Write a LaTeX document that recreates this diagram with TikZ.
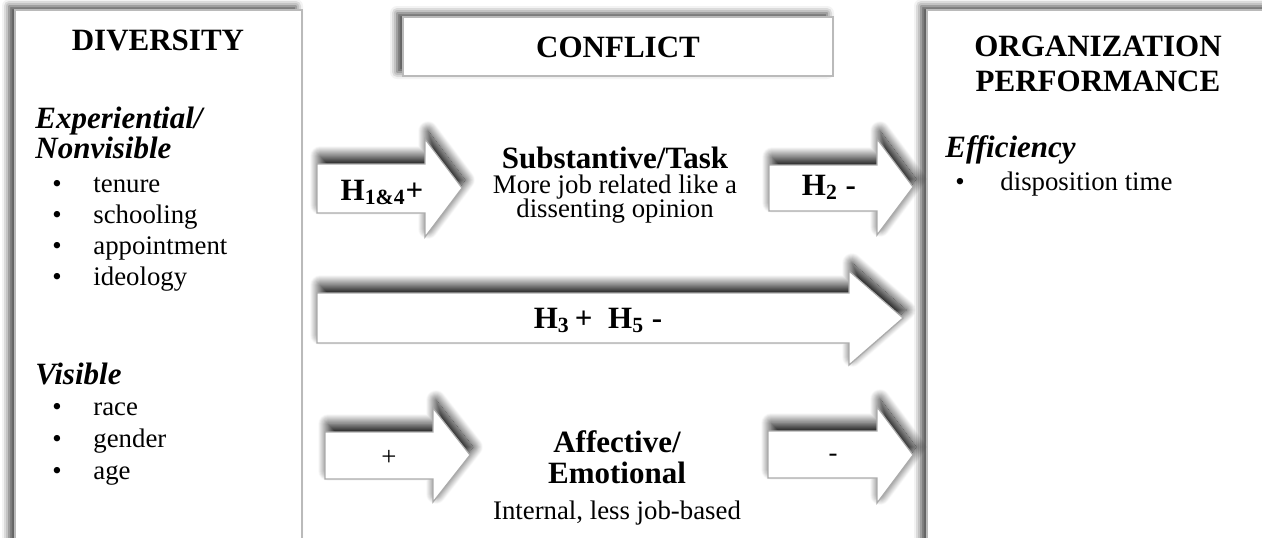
\documentclass[tikz,border=0pt]{standalone}
\usepackage{fontspec}
\setmainfont{Liberation Serif}
\usetikzlibrary{shadows.blur}

\newcommand{\bodysize}{\fontsize{13.4}{16}\selectfont}
\newcommand{\headsize}{\fontsize{15.5}{18}\selectfont}

\begin{document}
\begin{tikzpicture}[x=0.5pt,y=-0.5pt]
        \tikzstyle{every node}+=[inner sep=0pt,font=\bodysize]
        \tikzstyle{panel}=[fill=white,draw=black!27,line width=0.7pt,blur shadow={shadow xshift=-3pt,shadow yshift=2pt,shadow blur radius=3.5pt,shadow opacity=75}]
        \tikzstyle{blockarrow}=[fill=white,draw=black!33,line width=0.6pt,line join=miter,blur shadow={shadow xshift=1.5pt,shadow yshift=4pt,shadow blur radius=5pt,shadow blur steps=20,shadow opacity=95}]
        \tikzstyle{heading}=[font=\headsize\bfseries]
        \tikzstyle{subhead}=[font=\headsize\bfseries\itshape,anchor=base west]
        \tikzstyle{item}=[anchor=base west]
        \useasboundingbox (0,0) rectangle (1262,537);
        \clip (0,0) rectangle (1262,537);
        \draw [panel] (15,10) rectangle (302,580);
        \draw [panel] (403,17) rectangle (833,76);
        \draw [panel] (927,10) rectangle (1320,580);
        \draw (158,50) node [heading,anchor=base] (diversity) {DIVERSITY};
        \draw (35,128) node [subhead] (experiential) {Experiential/};
        \draw (35,158) node [subhead] (nonvisible) {Nonvisible};
        \draw (52,192) node [item] (b1) {\textbullet};
        \draw (93,192) node [item] (tenure) {tenure};
        \draw (52,223) node [item] (b2) {\textbullet};
        \draw (93,223) node [item] (schooling) {schooling};
        \draw (52,254) node [item] (b3) {\textbullet};
        \draw (93,254) node [item] (appointment) {appointment};
        \draw (52,285) node [item] (b4) {\textbullet};
        \draw (93,285) node [item] (ideology) {ideology};
        \draw (35,384) node [subhead] (visible) {Visible};
        \draw (52,415) node [item] (b5) {\textbullet};
        \draw (93,415) node [item] (race) {race};
        \draw (52,447) node [item] (b6) {\textbullet};
        \draw (93,447) node [item] (gender) {gender};
        \draw (52,479) node [item] (b7) {\textbullet};
        \draw (93,479) node [item] (age) {age};
        \draw (618,57) node [heading,anchor=base] (conflict) {CONFLICT};
        \draw (1098,56) node [heading,anchor=base] (organization) {ORGANIZATION};
        \draw (1098,91) node [heading,anchor=base] (performance) {PERFORMANCE};
        \draw (945,157) node [subhead] (efficiency) {Efficiency};
        \draw (955,190) node [item] (b8) {\textbullet};
        \draw (1000,190) node [item] (disposition) {disposition time};
        \draw [blockarrow] (317,164) -- (425,164) -- (425,139) -- (462,188) -- (425,237) -- (425,213) -- (317,213) -- cycle;
        \draw (382,200) node [heading,anchor=base] (hone) {H\textsubscript{1\&4}+};
        \draw [blockarrow] (769,165) -- (877,165) -- (877,139) -- (913,187) -- (877,235) -- (877,211) -- (769,211) -- cycle;
        \draw (829,195) node [heading,anchor=base] (htwo) {H\textsubscript{2} -};
        \draw [blockarrow] (317,293) -- (849,293) -- (849,271) -- (903,318) -- (849,365) -- (849,343) -- (317,343) -- cycle;
        \draw (598,328) node [heading,anchor=base] (hthree) {H\textsubscript{3}\,+~~H\textsubscript{5} -};
        \draw [blockarrow] (325,432) -- (433,432) -- (433,408) -- (470,455) -- (433,502) -- (433,479) -- (325,479) -- cycle;
        \draw (389,458) node (plus) {+};
        \draw [blockarrow] (768,431) -- (877,431) -- (877,407) -- (913,455) -- (877,503) -- (877,478) -- (768,478) -- cycle;
        \draw (833,458) node (minus) {-};
        \draw (615,168) node [heading,anchor=base] (substantive) {Substantive/Task};
        \draw (615,193) node [anchor=base] (morejob) {More job related like a};
        \draw (615,217) node [anchor=base] (dissenting) {dissenting opinion};
        \draw (617,452) node [heading,anchor=base] (affective) {Affective/};
        \draw (617,483) node [heading,anchor=base] (emotional) {Emotional};
        \draw (617,519) node [anchor=base] (internal) {Internal, less job-based};
      \end{tikzpicture}
\end{document}
